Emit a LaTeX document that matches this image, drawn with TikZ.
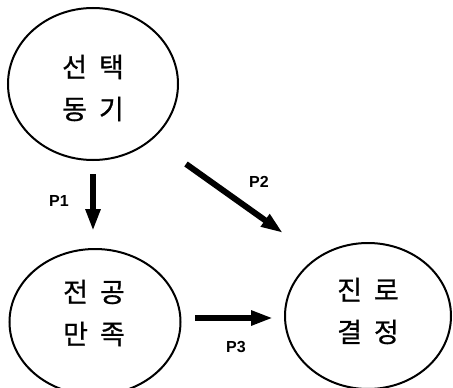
\documentclass[tikz,border=0pt]{standalone}
\usepackage{fontspec}
\newfontfamily\kr[FakeBold=0.8]{Noto Sans CJK KR}
\setsansfont{Liberation Sans}
\usetikzlibrary{arrows.meta,shapes.geometric}
\newcommand{\gapk}{\hspace{12pt}}
\begin{document}
\begin{tikzpicture}[x=1pt,y=-1pt,
  circ/.style={draw,line width=2pt,ellipse,inner sep=0pt},
  ktext/.style={font=\kr\fontsize{27}{42}\selectfont,align=center},
  parrow/.style={line width=6pt,-{Triangle[length=22pt,width=14pt]}},
  plabel/.style={font=\sffamily\bfseries\fontsize{16}{18}\selectfont}]
\useasboundingbox (0,0) rectangle (453,388);
\node[circ,minimum width=170pt,minimum height=152pt] (motive) at (93,84) {};
\node[circ,minimum width=171pt,minimum height=146pt] (major) at (95,322) {};
\node[circ,minimum width=166pt,minimum height=146pt] (career) at (368,316) {};
\node[ktext] (tmotive) at (93,88) {선\gapk 택\\동\gapk 기};
\node[ktext] (tmajor) at (94,313) {전\gapk 공\\만\gapk 족};
\node[ktext] (tcareer) at (368,311) {진\gapk 로\\결\gapk 정};
\coordinate (p1s) at (93,174);
\coordinate (p1e) at (93,231);
\coordinate (p2s) at (186,164);
\coordinate (p2e) at (283,233);
\coordinate (p3s) at (195,318);
\coordinate (p3e) at (273,318);
\draw[parrow] (p1s) -- (p1e);
\draw[parrow] (p2s) -- (p2e);
\draw[parrow] (p3s) -- (p3e);
\node[plabel] (l1) at (59,201) {P1};
\node[plabel] (l2) at (259,182) {P2};
\node[plabel] (l3) at (236,347) {P3};
\end{tikzpicture}
\end{document}
